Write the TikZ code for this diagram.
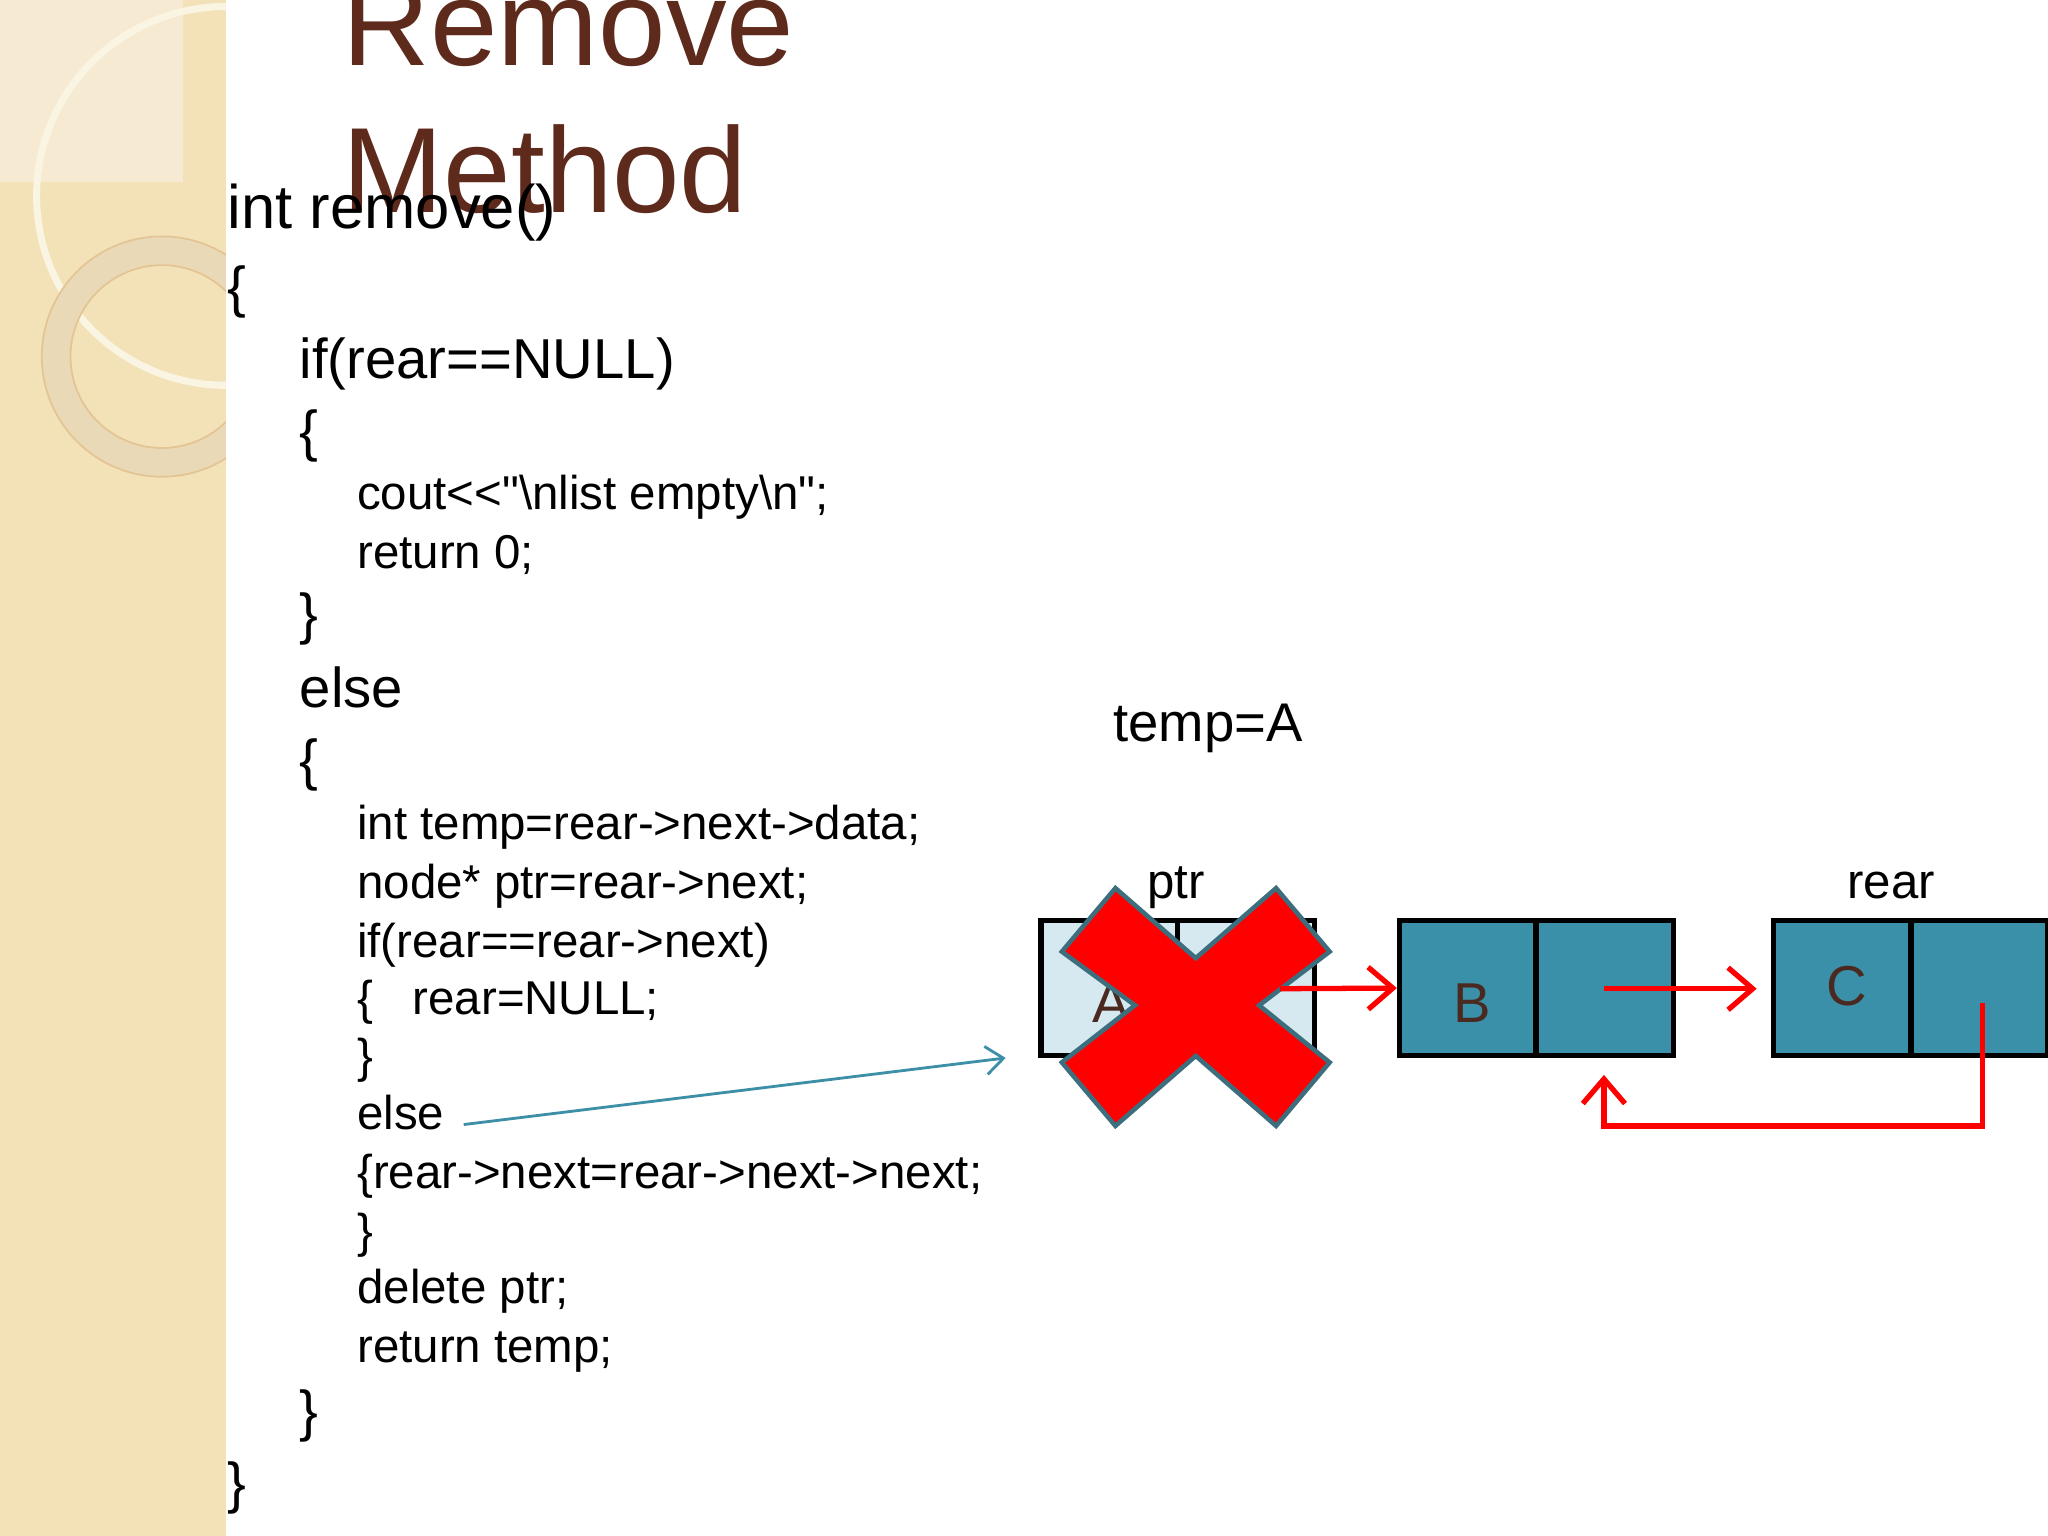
\documentclass[tikz,border=0pt]{standalone}
\usepackage{fontspec}
\setmainfont{Liberation Sans}
\usetikzlibrary{arrows.meta}
\definecolor{beige}{HTML}{F3E2B8}
\definecolor{beigel}{HTML}{F6EBD2}
\definecolor{ringc}{HTML}{EAD9B6}
\definecolor{titlec}{HTML}{5E2A1C}
\definecolor{teal}{HTML}{3A90A8}
\definecolor{lteal}{HTML}{D6E9F0}
\definecolor{brownt}{HTML}{4A2A20}
\definecolor{xedge}{HTML}{3C6E7E}
\definecolor{linkc}{HTML}{3C8FA6}
\tikzset{
  big/.style={font=\fontsize{16}{19}\selectfont, anchor=base west, inner sep=0pt},
  small/.style={font=\fontsize{13.5}{16}\selectfont, anchor=base west, inner sep=0pt},
  title/.style={font=\fontsize{34.5}{40}\selectfont, anchor=base west, inner sep=0pt, text=titlec},
  cell/.style={draw=black, line width=1.5pt, minimum width=105\pgfunit, minimum height=103\pgfunit, inner sep=0pt, font=\fontsize{16}{19}\selectfont, text=brownt},
  red arrow/.style={draw=red, line width=1.5pt, -{Straight Barb[length=7pt,width=12pt]}},
}
\newdimen\pgfunit \pgfunit=0.013061cm
\begin{document}
\begin{tikzpicture}[x=0.013061cm,y=-0.013061cm]
\useasboundingbox (0,0) rectangle (1568,1176);
\fill[white] (0,0) rectangle (1568,1176);
% left decorative panel
\begin{scope}
\clip (0,0) rectangle (173,1176);
\fill[beige] (0,0) rectangle (173,1176);
\fill[beigel] (0,0) rectangle (140,139);
\draw[ringc!80!brown, line width=0.6pt] (140,0) arc[start angle=0,end angle=-90,radius=140];
\draw[white!60!beige, line width=2pt] (173,150) circle[radius=145];
\fill[ringc, even odd rule] (124,273) circle[radius=92] (124,273) circle[radius=70];
\draw[beige!70!brown, line width=0.5pt] (124,273) circle[radius=92] (124,273) circle[radius=70];
\end{scope}
% title
\node[title] (t1) at (262,50) {Remove};
\node[title] (t2) at (262,163) {Method};
% code
\node[big, font=\fontsize{17.5}{20}\selectfont] (c1) at (174,175) {int remove()};
\node[big] (c2) at (174,235) {\{};
\node[big] (c3) at (229,290) {if(rear==NULL)};
\node[big] (c4) at (229,345) {\{};
\node[small] (c5) at (273,390) {cout\textless\kern0pt\textless\kern0pt\textquotedbl\textbackslash nlist empty\textbackslash n\textquotedbl;};
\node[small] (c6) at (273,435) {return 0;};
\node[big] (c7) at (229,485) {\}};
\node[big] (c8) at (229,542) {else};
\node[big] (c9) at (229,597) {\{};
\node[small] (c10) at (273,643) {int temp=rear->next->data;};
\node[small] (c11) at (273,688) {node* ptr=rear->next;};
\node[small] (c12) at (273,733) {if(rear==rear->next)};
\node[small] (c13) at (273,777) {\{\ \ \ rear=NULL;};
\node[small] (c14) at (273,821) {\}};
\node[small] (c15) at (273,865) {else};
\node[small] (c16) at (273,910) {\{rear->next=rear->next->next;};
\node[small] (c17) at (273,955) {\}};
\node[small] (c18) at (273,998) {delete ptr;};
\node[small] (c19) at (273,1043) {return temp;};
\node[big] (c20) at (229,1095) {\}};
\node[big] (c21) at (174,1150) {\}};
% labels
\node[big, font=\fontsize{15.5}{18}\selectfont] (tA) at (852,568) {temp=A};
\node[small, font=\fontsize{14}{16}\selectfont] (lp) at (878,688) {ptr};
\node[small, font=\fontsize{14}{16}\selectfont] (lr) at (1414,688) {rear};
% nodes
\node[cell, fill=lteal] (a1) at (849.5,756.5) {};
\node[cell, fill=lteal] (a2) at (954,756.5) {};
\node[cell, fill=teal] (b1) at (1124,756.5) {};
\node[cell, fill=teal] (b2) at (1228.5,756.5) {};
\node[cell, fill=teal] (cc1) at (1410.5,756.5) {};
\node[cell, fill=teal] (cc2) at (1515.5,756.5) {};
\node[font=\fontsize{16}{19}\selectfont, text=brownt] (la) at (851,768) {A};
\node[font=\fontsize{16}{19}\selectfont, text=brownt] (lb) at (1127,768) {B};
\node[font=\fontsize{16}{19}\selectfont, text=brownt] (lc) at (1414,755) {C};
% cross
\filldraw[fill=red, draw=xedge, line width=1.3pt, line join=miter]
 (854,680) -- (915.5,733.6) -- (977,680) -- (1018,728.6) -- (964,769.7) -- (1018,813.4)
 -- (977,862) -- (915.5,808.4) -- (854,862) -- (813,813.4) -- (869,769.7) -- (813,728.6) -- cycle;
% connectors
\coordinate (s1) at (980,757);
\draw[red arrow] (s1) -- (b1.west);
\coordinate (s2) at (1228,757);
\coordinate (e2) at (1345,757);
\draw[red arrow] (s2) -- (e2);
\coordinate (s3) at (1518,768);
\coordinate (e3) at (1228,823);
\draw[red arrow, line join=miter] (s3) -- (1518,862) -- (1228,862) -- (e3);
\coordinate (ls) at (355,861);
\coordinate (le) at (770,810);
\draw[linkc, line width=0.8pt, -{Straight Barb[length=5pt,width=8pt]}] (ls) -- (le);
\end{tikzpicture}
\end{document}
